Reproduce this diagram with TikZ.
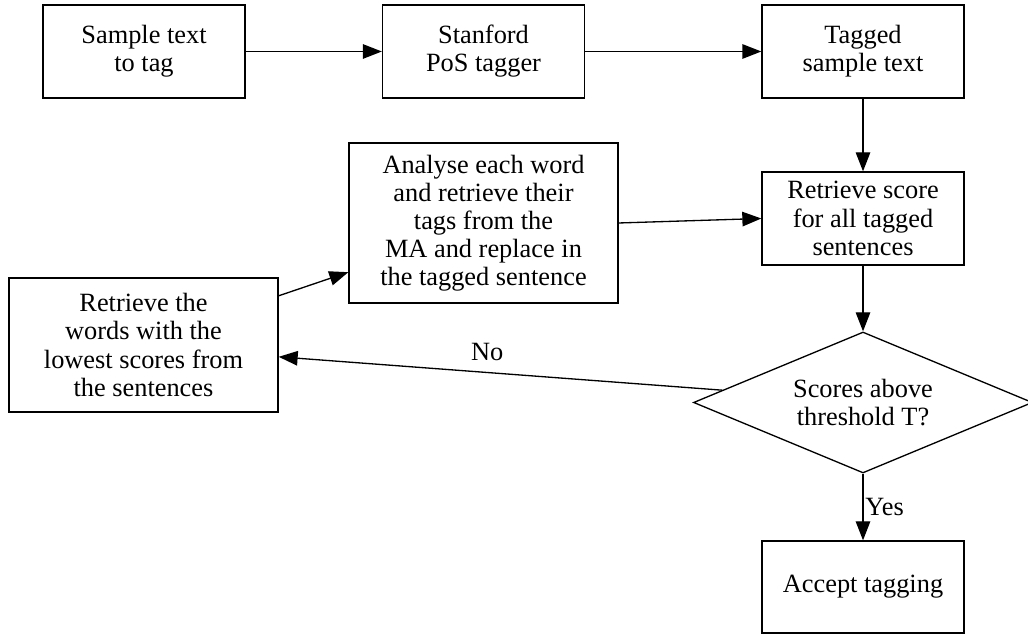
\documentclass[tikz,border=0pt]{standalone}
\usepackage{fontspec}
\setmainfont{Liberation Serif}
\usepackage{tikz}
\usetikzlibrary{shapes,arrows.meta,positioning,calc}

\begin{document}
\begin{tikzpicture}[
    font=\fontsize{15}{16}\selectfont,
    box/.style={rectangle, draw=black, line width=0.75pt, align=center, minimum width=4.04cm, minimum height=1.86cm},
    widebox/.style={box, minimum width=5.38cm},
    decision/.style={diamond, draw=black, line width=0.75pt, align=center, aspect=2.4, inner sep=0pt, minimum width=6.78cm, minimum height=2.82cm},
    arrow/.style={line width=0.75pt, ->, >={Triangle[length=3.8mm, width=2.9mm]}}
]
\useasboundingbox (0,0) rectangle (20.56,12.68);

% Top row
\node[box] (sample) at (2.88, 11.65) {Sample text \\ to tag};
\node[box] (tagger) at (9.67, 11.65) {Stanford \\ PoS tagger};
\node[box] (tagged) at (17.26, 11.65) {Tagged \\ sample text};

% Scoring
\node[box] (score) at (17.26, 8.31) {Retrieve score \\ for all tagged \\ sentences};
\node[decision] (check) at (17.26, 4.63) {Scores above \\ threshold T?};
\node[box, minimum height=1.84cm] (accept) at (17.26, 0.94) {Accept tagging};

% Retagging loop
\node[widebox, minimum height=3.2cm] (analyse) at (9.67, 8.22) {Analyse each word \\ and retrieve their \\ tags from the \\ MA and replace in \\ the tagged sentence};
\node[widebox, minimum height=2.68cm] (lowest) at (2.87, 5.78) {Retrieve the \\ words with the \\ lowest scores from \\ the sentences};

% Arrows
\draw[arrow] (sample) -- (tagger);
\draw[arrow] (tagger) -- (tagged);
\draw[arrow] (tagged) -- (score);
\draw[arrow] (score) -- (check);
\draw[arrow] (check) -- (accept) node[midway, right, inner sep=1pt] {Yes};

\draw[arrow] (check.175.5) -- (lowest.-5) node[pos=0.53, above=3pt] {No};
\draw[arrow] (lowest.20) -- (analyse.200);
\draw[arrow] (analyse.east) -- (score.west);

\end{tikzpicture}
\end{document}
